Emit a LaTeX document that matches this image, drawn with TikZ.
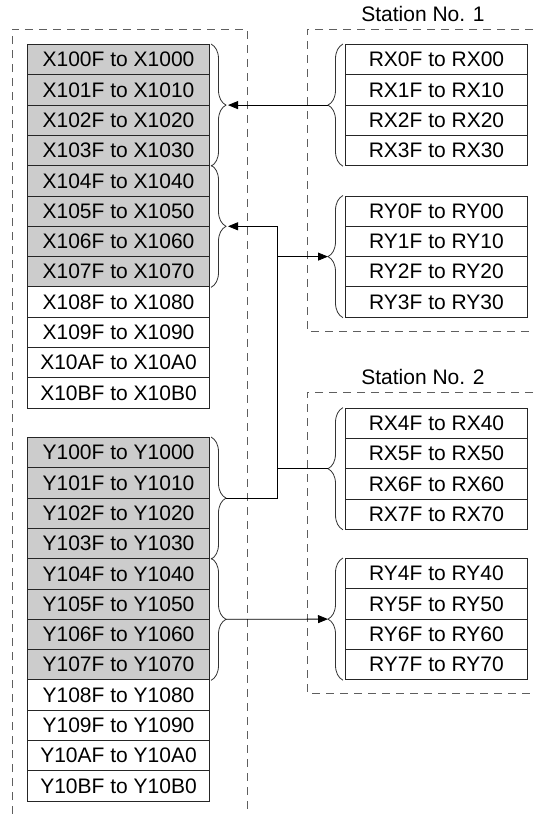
\documentclass[tikz,border=0pt]{standalone}
\usepackage{fontspec}
\setmainfont{Liberation Sans}
\usetikzlibrary{arrows.meta,decorations.pathreplacing,calc}
\definecolor{cellgrey}{RGB}{204,204,204}
\definecolor{dashgrey}{RGB}{95,95,95}
\begin{document}
\begin{tikzpicture}[x=1pt,y=-1pt,
  cell/.style={draw=black!85, line width=1pt, minimum width=182pt, minimum height=30.3pt,
    inner sep=0pt, anchor=north west, font=\fontsize{21}{25}\selectfont},
  shaded/.style={fill=cellgrey},
  frame/.style={draw=dashgrey, line width=0.9pt, dash pattern=on 8pt off 6pt},
  bracepath/.style={draw=black!80, line width=0.8pt, decorate, decoration={brace, amplitude=15pt}},
  link/.style={draw=black, line width=0.8pt},
  arrowlink/.style={link, -{Triangle[length=10pt,width=8pt]}},
  label/.style={font=\fontsize{21}{25}\selectfont, inner sep=0pt}]
\useasboundingbox (0,0) rectangle (533,814);

% dashed frames
\draw[frame] (12,814) -- (12,29) -- (247,29) -- (247,814);
\draw[frame] (533,29) -- (307,29) -- (307,331) -- (533,331);
\draw[frame] (533,392) -- (307,392) -- (307,693) -- (533,693);

\node[label] (st1) at (423,14) {Station No. 1};
\node[label] (st2) at (423,377) {Station No. 2};

% left X cells
\foreach \h [count=\i from 0] in {0,1,2,3,4,5,6,7,8,9,A,B}{
  \ifnum\i<8
    \node[cell, shaded] (x\i) at (27,44+30.3*\i) {X10\h F to X10\h 0};
  \else
    \node[cell] (x\i) at (27,44+30.3*\i) {X10\h F to X10\h 0};
  \fi
}
% left Y cells
\foreach \h [count=\i from 0] in {0,1,2,3,4,5,6,7,8,9,A,B}{
  \ifnum\i<8
    \node[cell, shaded] (y\i) at (27,437+30.3*\i) {Y10\h F to Y10\h 0};
  \else
    \node[cell] (y\i) at (27,437+30.3*\i) {Y10\h F to Y10\h 0};
  \fi
}
% station 1
\foreach \i in {0,1,2,3}{
  \node[cell] (rx\i) at (345,44+30.3*\i) {RX\i F to RX\i 0};
  \node[cell] (ry\i) at (345,195.5+30.3*\i) {RY\i F to RY\i 0};
}
% station 2
\foreach \i [evaluate=\i as \j using int(\i+4)] in {0,1,2,3}{
  \node[cell] (rx\j) at (345,407.6+30.3*\i) {RX\j F to RX\j 0};
  \node[cell] (ry\j) at (345,558+30.3*\i) {RY\j F to RY\j 0};
}

% braces on the left column
\draw[bracepath] ([xshift=1pt]x0.north east) -- ([xshift=1pt]x3.south east);
\draw[bracepath] ([xshift=1pt]x4.north east) -- ([xshift=1pt]x7.south east);
\draw[bracepath] ([xshift=1pt]y0.north east) -- ([xshift=1pt]y3.south east);
\draw[bracepath] ([xshift=1pt]y4.north east) -- ([xshift=1pt]y7.south east);
\coordinate (tx0) at ($(x0.north east)!0.5!(x3.south east)+(16,0)$);
\coordinate (tx1) at ($(x4.north east)!0.5!(x7.south east)+(16,0)$);
\coordinate (ty0) at ($(y0.north east)!0.5!(y3.south east)+(16,0)$);
\coordinate (ty1) at ($(y4.north east)!0.5!(y7.south east)+(16,0)$);

% braces on the station cells
\draw[bracepath] ([xshift=-2pt]rx3.south west) -- ([xshift=-2pt]rx0.north west);
\draw[bracepath] ([xshift=-2pt]ry3.south west) -- ([xshift=-2pt]ry0.north west);
\draw[bracepath] ([xshift=-2pt]rx7.south west) -- ([xshift=-2pt]rx4.north west);
\draw[bracepath] ([xshift=-2pt]ry7.south west) -- ([xshift=-2pt]ry4.north west);
\coordinate (trx0) at ($(rx0.north west)!0.5!(rx3.south west)+(-17,0)$);
\coordinate (try0) at ($(ry0.north west)!0.5!(ry3.south west)+(-17,0)$);
\coordinate (trx4) at ($(rx4.north west)!0.5!(rx7.south west)+(-17,0)$);
\coordinate (try4) at ($(ry4.north west)!0.5!(ry7.south west)+(-17,0)$);

% connectors
\draw[arrowlink] (trx0) -- ([xshift=2pt]tx0);
\coordinate (jtop) at (277,0 |- tx1);
\coordinate (jbot) at (277,0 |- ty0);
\draw[arrowlink] (ty0) -- (jbot) -- (jtop) -- ([xshift=2pt]tx1);
\draw[arrowlink] (jtop |- try0) -- (try0);
\draw[link] (jtop |- trx4) -- (trx4);
\draw[arrowlink] (ty1) -- (try4);
\end{tikzpicture}
\end{document}
